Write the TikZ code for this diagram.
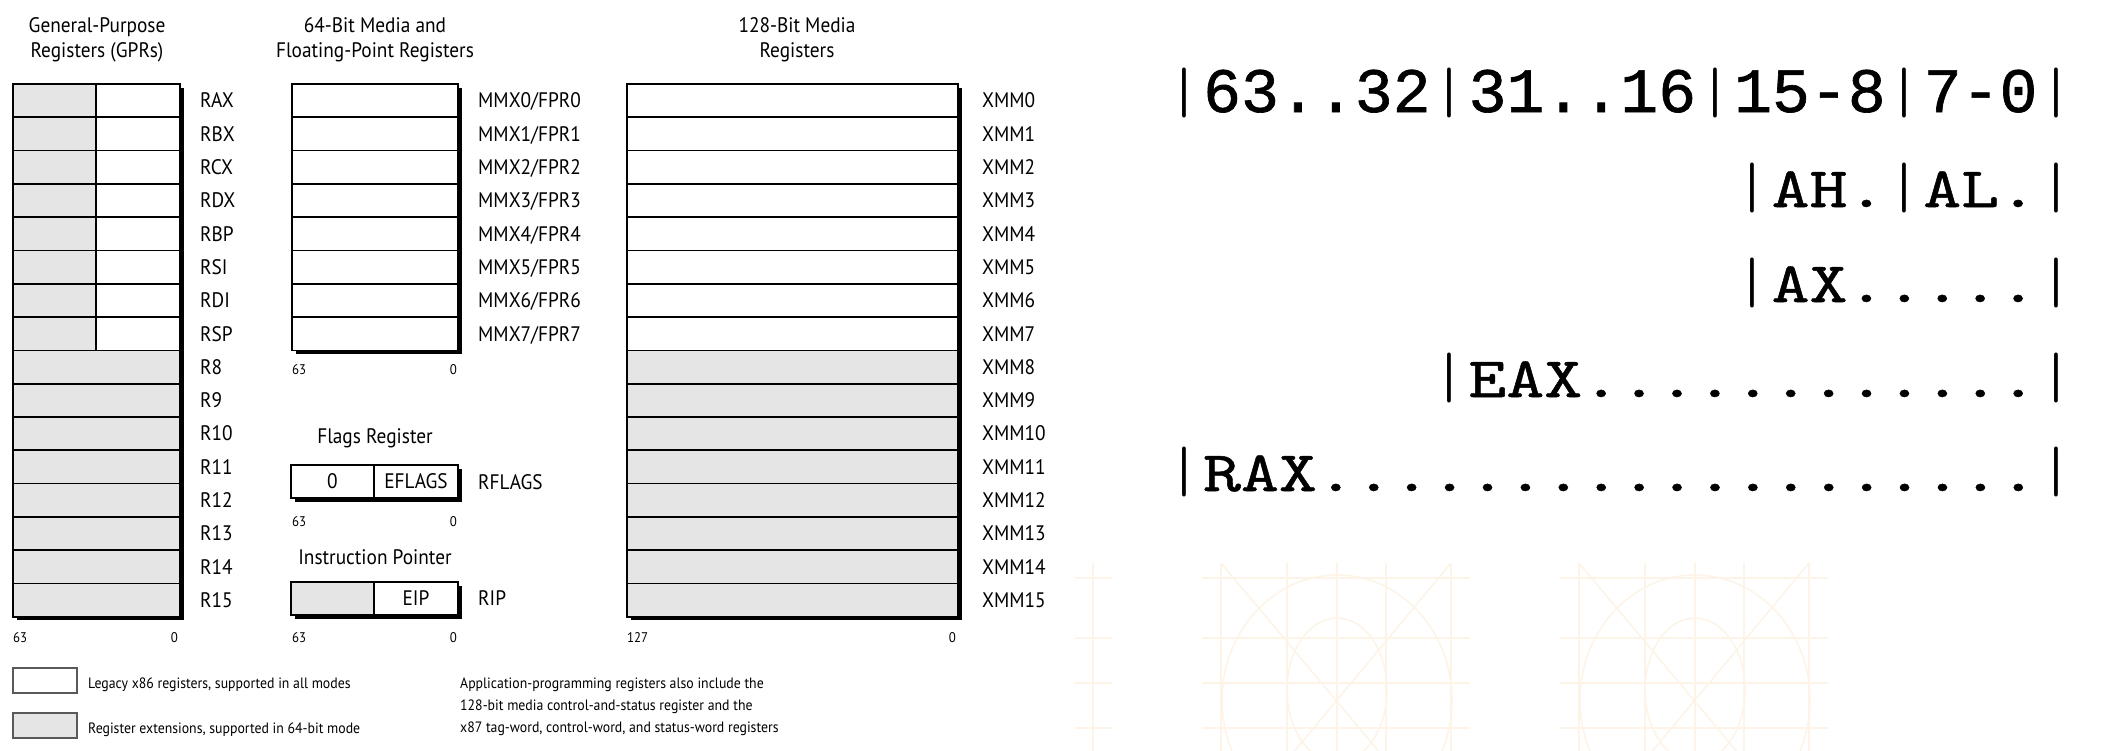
\documentclass[tikz,border=0pt]{standalone}
\usepackage{graphicx}
\usepackage{fontspec}
\setmainfont{PT Sans}[FakeStretch=0.92]
\newfontfamily\dgf{Liberation Mono}[FakeBold=1]
\newfontfamily\lmb{lmmono10-regular}[Extension=.otf,FakeStretch=1.267,FakeBold=0.9]
\newfontfamily\lmr{lmmonolt10-regular}[Extension=.otf,FakeStretch=1.267]
\definecolor{regfill}{RGB}{229,229,229}
\definecolor{wm}{RGB}{253,244,231}
\newcommand\rbar{{\lmr\fontsize{57}{60}\selectfont\scalebox{1}[1.12]{|}}}
\newcommand\rdig[1]{{\dgf\fontsize{63.2}{66}\selectfont#1}}
\newcommand\rtxt[1]{{\lmb\fontsize{57}{60}\selectfont#1}}
\tikzset{
  cellbox/.style={draw=black, line width=1.7pt},
  extbox/.style={cellbox, fill=regfill},
  legacybox/.style={cellbox, fill=white},
  lbl/.style={inner sep=0pt, anchor=base west, font=\fontsize{21}{24}\selectfont},
  ttl/.style={inner sep=0pt, anchor=base, font=\fontsize{21}{24}\selectfont},
  numlbl/.style={inner sep=0pt, font=\fontsize{14}{16}\selectfont},
  smalltext/.style={inner sep=0pt, anchor=base west, font=\fontsize{15}{18}\selectfont},
  monoline/.style={inner sep=0pt, anchor=base west},
  wmark/.style={draw=wm, line width=1.5pt},
  legbox/.style={draw=black!65, line width=1.2pt},
}
\begin{document}
\begin{tikzpicture}[x=1pt,y=-1pt]
\useasboundingbox[fill=white] (0,0) rectangle (2120,750);

% ---------- watermark ----------
\begin{scope}
\clip (1040,550) rectangle (2120,750);
\foreach \L in {1202,1560}{
  \foreach \yy in {578,638,683,728} \draw[wmark] (\L,\yy) -- ++(268,0);
  \foreach \xx in {19,85,135,184,249} \draw[wmark] (\L+\xx,563) -- (\L+\xx,760);
  \draw[wmark] (\L+19,563) -- (\L+184,760);
  \draw[wmark] (\L+249,563) -- (\L+85,760);
  \draw[wmark] (\L+135,700) ellipse [x radius=115, y radius=125];
  \draw[wmark] (\L+135,690) ellipse [x radius=50, y radius=72];
}
\draw[wmark] (1093,563) -- (1093,760);
\foreach \yy in {578,638,683,728} \draw[wmark] (1075,\yy) -- (1112,\yy);
\end{scope}

% ---------- titles ----------
\node[ttl] (t1a) at (97,32) {General-Purpose};
\node[ttl] (t1b) at (97,57) {Registers (GPRs)};
\node[ttl] (t2a) at (375,32) {64-Bit Media and};
\node[ttl] (t2b) at (375,57) {Floating-Point Registers};
\node[ttl] (t3a) at (797,32) {128-Bit Media};
\node[ttl] (t3b) at (797,57) {Registers};

% ---------- GPRs ----------
\fill[black] (16.5,87.5) rectangle (183.5,620.3);
\foreach \n [count=\i from 0] in {RAX,RBX,RCX,RDX,RBP,RSI,RDI,RSP,R8,R9,R10,R11,R12,R13,R14,R15}{
  \pgfmathsetmacro\ya{84+33.3*\i}
  \pgfmathsetmacro\yb{\ya+33.3}
  \pgfmathsetmacro\yl{\ya+16.65+7.3}
  \ifnum\i<8
    \draw[extbox] (13,\ya) rectangle (96,\yb);
    \draw[legacybox] (96,\ya) rectangle (180,\yb);
  \else
    \draw[extbox] (13,\ya) rectangle (180,\yb);
  \fi
  \node[lbl] (g\n) at (200,\yl) {\n};
}
\node[numlbl, anchor=base west] (g63) at (13,642) {63};
\node[numlbl, anchor=base east] (g0) at (178,642) {0};

% ---------- MMX / FPR ----------
\fill[black] (295.5,87.5) rectangle (461.5,353.9);
\foreach \i in {0,...,7}{
  \pgfmathsetmacro\ya{84+33.3*\i}
  \pgfmathsetmacro\yb{\ya+33.3}
  \pgfmathsetmacro\yl{\ya+16.65+7.3}
  \draw[legacybox] (292,\ya) rectangle (458,\yb);
  \node[lbl] (m\i) at (478,\yl) {MMX\i/FPR\i};
}
\node[numlbl, anchor=base west] (m63) at (292,374) {63};
\node[numlbl, anchor=base east] (m0) at (457,374) {0};

% ---------- Flags ----------
\node[ttl] (tf) at (375,443) {Flags Register};
\fill[black] (294.5,468.5) rectangle (461.5,501.5);
\draw[legacybox] (291,465) rectangle (374,498);
\draw[legacybox] (374,465) rectangle (458,498);
\node[lbl, anchor=base] (fz) at (332.5,488) {0};
\node[lbl, anchor=base] (fe) at (416,488) {EFLAGS};
\node[lbl] (fr) at (478,489) {RFLAGS};
\node[numlbl, anchor=base west] (f63) at (292,526) {63};
\node[numlbl, anchor=base east] (f0) at (457,526) {0};

% ---------- Instruction pointer ----------
\node[ttl] (ti) at (375,564) {Instruction Pointer};
\fill[black] (294.5,585.5) rectangle (461.5,618.5);
\draw[extbox] (291,582) rectangle (374,615);
\draw[legacybox] (374,582) rectangle (458,615);
\node[lbl, anchor=base] (ie) at (416,605) {EIP};
\node[lbl] (ir) at (478,605) {RIP};
\node[numlbl, anchor=base west] (i63) at (292,642) {63};
\node[numlbl, anchor=base east] (i0) at (457,642) {0};

% ---------- XMM ----------
\fill[black] (630.5,87.5) rectangle (961.5,620.3);
\foreach \i in {0,...,15}{
  \pgfmathsetmacro\ya{84+33.3*\i}
  \pgfmathsetmacro\yb{\ya+33.3}
  \pgfmathsetmacro\yl{\ya+16.65+7.3}
  \ifnum\i<8
    \draw[legacybox] (627,\ya) rectangle (958,\yb);
  \else
    \draw[extbox] (627,\ya) rectangle (958,\yb);
  \fi
  \node[lbl] (x\i) at (982,\yl) {XMM\i};
}
\node[numlbl, anchor=base west] (x127) at (627,642) {127};
\node[numlbl, anchor=base east] (x0) at (956,642) {0};

% ---------- legend ----------
\draw[legbox, fill=white] (13,668) rectangle (77,693);
\node[smalltext] (l1) at (88,688) {Legacy x86 registers, supported in all modes};
\draw[legbox, fill=regfill] (13,713) rectangle (77,738);
\node[smalltext] (l2) at (88,733) {Register extensions, supported in 64-bit mode};
\node[smalltext] (n1) at (460,688) {Application-programming registers also include the};
\node[smalltext] (n2) at (460,710) {128-bit media control-and-status register and the};
\node[smalltext] (n3) at (460,732) {x87 tag-word, control-word, and status-word registers};

% ---------- RAX breakdown ----------
\node[monoline] (r1) at (1165,112) {\rbar\rdig{63..32}\rbar\rdig{31..16}\rbar\rdig{15-8}\rbar\rdig{7-0}\rbar};
\node[monoline] (r2) at (1733.5,207) {\rbar\rtxt{AH.}\rbar\rtxt{AL.}\rbar};
\node[monoline] (r3) at (1733.5,302) {\rbar\rtxt{AX.....}\rbar};
\node[monoline] (r4) at (1430.3,397) {\rbar\rtxt{EAX............}\rbar};
\node[monoline] (r5) at (1165,491) {\rbar\rtxt{RAX...................}\rbar};
\end{tikzpicture}
\end{document}
